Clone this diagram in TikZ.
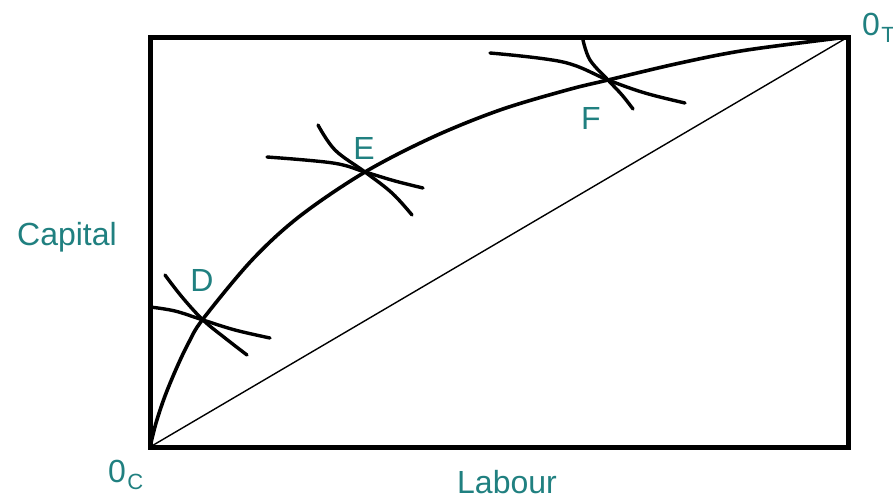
\documentclass[tikz,border=0pt]{standalone}
\usepackage{fontspec}
\setmainfont{Liberation Sans}
\definecolor{labc}{RGB}{32,128,128}
\begin{document}
\begin{tikzpicture}[x=1pt,y=-1pt,
  lbl/.style={text=labc,font=\fontsize{32}{38}\selectfont,inner sep=0pt},
  sub/.style={text=labc,font=\fontsize{22}{26}\selectfont,inner sep=0pt},
  boxline/.style={line width=5pt,line join=miter},
  mainc/.style={line width=3.6pt,line cap=round,line join=round},
  iso/.style={line width=3.4pt,line cap=round,line join=round},
  diag/.style={line width=1.4pt}]
\useasboundingbox (0,0) rectangle (893,498);
\coordinate (OC) at (150,447);
\coordinate (OT) at (848,37);
\draw[boxline] (OC) rectangle (OT);
\draw[diag] (OC) -- (OT);
\draw[mainc] plot[smooth,tension=0.55] coordinates {(150,447) (156,423) (165,396) (177,367) (189,342) (203,319) (252,260) (300,216) (365,172) (433,137) (500,110) (567,90) (608,80) (680,63) (747,50) (848,37)};
% D
\draw[iso] plot[smooth,tension=0.6] coordinates {(150,307) (175,311) (203,320) (235,330) (270,338)};
\draw[iso] plot[smooth,tension=0.6] coordinates {(165,275) (182,297) (203,320) (225,338) (247,355)};
% E
\draw[iso] plot[smooth,tension=0.6] coordinates {(267,157) (333,163) (365,172) (395,181) (423,188)};
\draw[iso] plot[smooth,tension=0.6] coordinates {(318,125) (335,150) (365,172) (392,193) (412,215)};
% F
\draw[iso] plot[smooth,tension=0.6] coordinates {(490,53) (563,62) (608,80) (645,93) (685,103)};
\draw[iso] plot[smooth,tension=0.6] coordinates {(583,40) (590,60) (608,80) (622,95) (633,109)};
\node[lbl] (D) at (202,280) {D};
\node[lbl] (E) at (364,148) {E};
\node[lbl] (F) at (591,118) {F};
\node[lbl] (cap) at (67,237) {Capital};
\node[lbl] (lab) at (507,482) {Labour};
\node[lbl,anchor=base west] (zc) at (108,482) {0};
\node[sub,anchor=base west] (zcs) at (zc.base east) [yshift=-7pt,xshift=1pt] {C};
\node[lbl,anchor=base west] (zt) at (862,35) {0};
\node[sub,anchor=base west] (zts) at (zt.base east) [yshift=-7pt,xshift=1pt] {T};
\end{tikzpicture}
\end{document}
